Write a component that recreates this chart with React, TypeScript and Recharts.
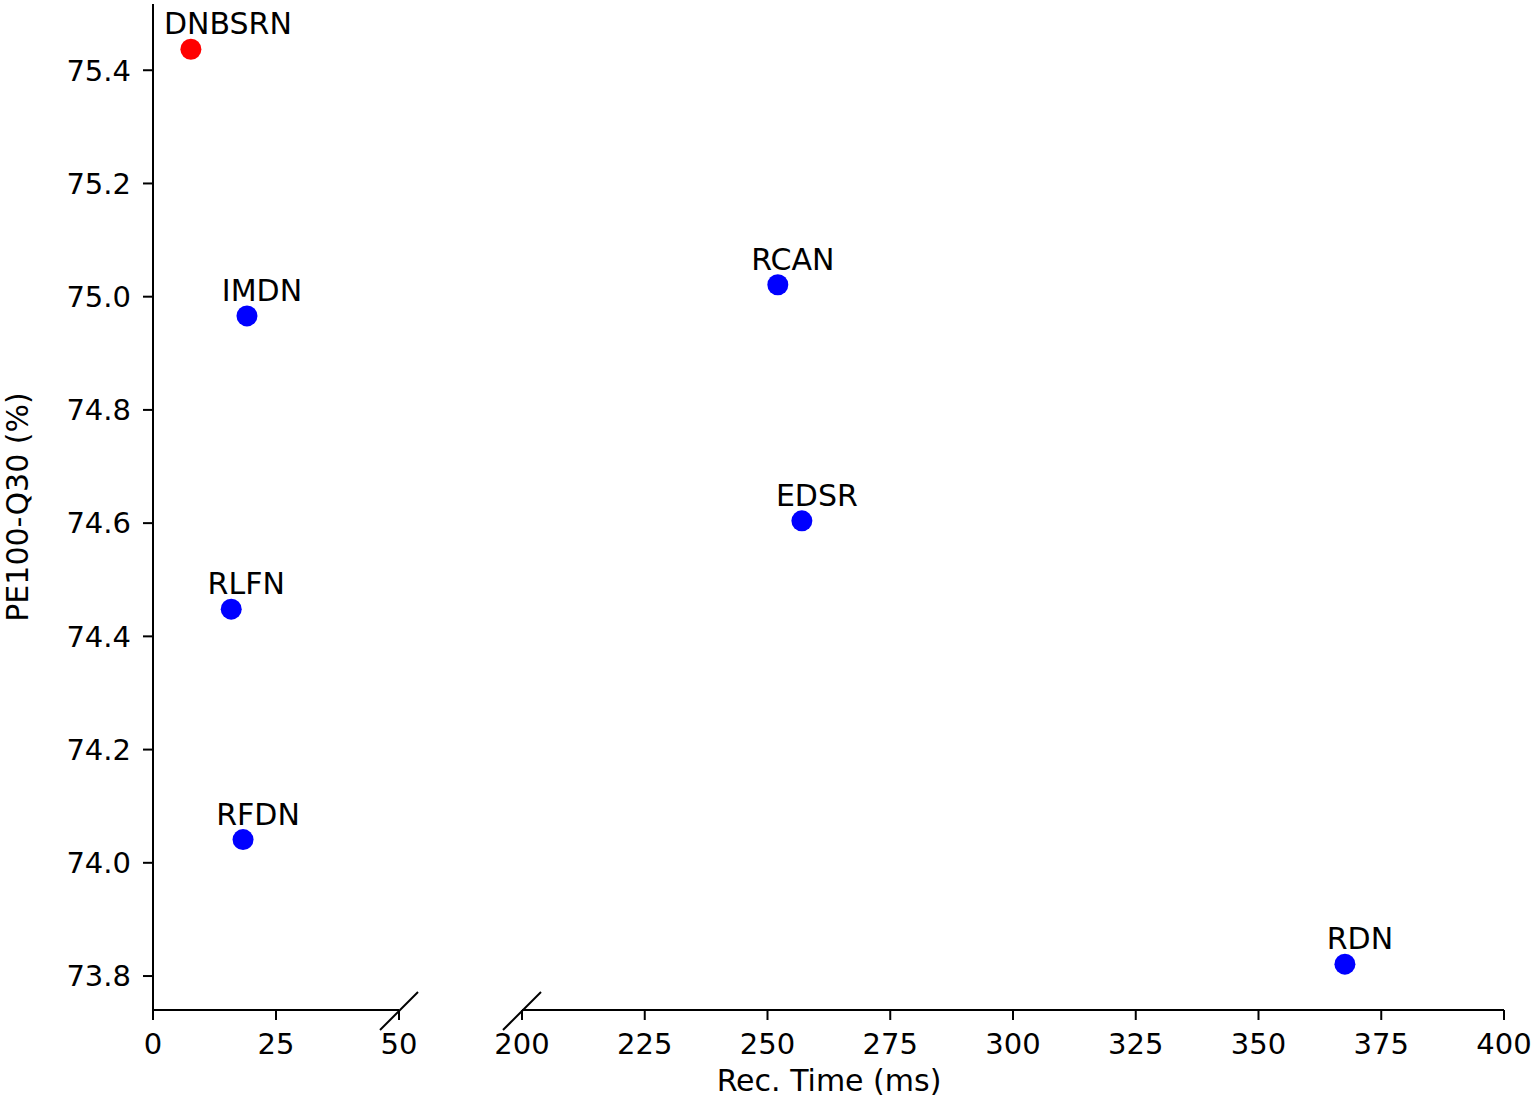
import { ScatterChart, Scatter, XAxis, YAxis } from 'recharts'

// Reconstrucción: PE100-Q30 vs tiempo de reconstrucción (eje X partido)
const models = ['DNBSRN', 'IMDN', 'RLFN', 'RFDN', 'RCAN', 'EDSR', 'RDN']
const recTime = [7.7, 19.1, 15.9, 18.3, 252.1, 257.0, 367.6]
const pe100 = [75.437, 74.966, 74.448, 74.041, 75.021, 74.604, 73.821]

const leftTicks = [0, 25, 50]
const rightTicks = [200, 225, 250, 275, 300, 325, 350, 375, 400]
const yTicks = [73.8, 74.0, 74.2, 74.4, 74.6, 74.8, 75.0, 75.2, 75.4]

const highlight = 'DNBSRN'
const labelShift: Record<string, number> = { DNBSRN: 37 }

const FONT = '"DejaVu Sans", sans-serif'
const Y_DOMAIN: [number, number] = [73.74, 75.517]

const puntos = models.map((name, i) => ({ name, x: recTime[i], y: pe100[i] }))
const puntosIzq = puntos.filter(p => p.x <= 50)
const puntosDer = puntos.filter(p => p.x >= 200)

const Punto = (props: any) => {
  const { cx, cy, payload } = props
  const dx = labelShift[payload.name] ?? 15
  return (
    <g>
      <circle cx={cx} cy={cy} r={10.5} fill={payload.name === highlight ? '#ff0000' : '#0000ff'} />
      <text x={cx + dx} y={cy - 15} textAnchor="middle" fontSize={30} fill="#000" fontFamily={FONT}>
        {payload.name}
      </text>
    </g>
  )
}

const tickStyle = { fontSize: 29, fill: '#000', fontFamily: FONT }
const lineStyle = { stroke: '#000', strokeWidth: 2 }

export default function App() {
  return (
    <div style={{ position: 'absolute', left: 0, top: 0, width: 1534, height: 1102, background: '#fff', fontFamily: FONT }}>
      {/* Panel izquierdo 0-50 */}
      <div style={{ position: 'absolute', left: 0, top: 0 }}>
        <ScatterChart width={430} height={1102} margin={{ top: 4, right: 31, bottom: 0, left: 0 }}>
          <XAxis
            type="number"
            dataKey="x"
            domain={[0, 50]}
            ticks={leftTicks}
            height={92}
            tick={tickStyle}
            tickSize={10}
            tickMargin={13}
            axisLine={lineStyle}
            tickLine={lineStyle}
          />
          <YAxis
            type="number"
            dataKey="y"
            domain={Y_DOMAIN}
            ticks={yTicks}
            width={153}
            tick={tickStyle}
            tickSize={10}
            tickMargin={12}
            tickFormatter={(v: number) => v.toFixed(1)}
            axisLine={lineStyle}
            tickLine={lineStyle}
          />
          <Scatter data={puntosIzq} shape={<Punto />} isAnimationActive={false} />
        </ScatterChart>
      </div>

      {/* Panel derecho 200-400 */}
      <div style={{ position: 'absolute', left: 440, top: 0 }}>
        <ScatterChart width={1094} height={1102} margin={{ top: 4, right: 30, bottom: 0, left: 82 }}>
          <XAxis
            type="number"
            dataKey="x"
            domain={[200, 400]}
            ticks={rightTicks}
            height={92}
            tick={tickStyle}
            tickSize={10}
            tickMargin={13}
            axisLine={lineStyle}
            tickLine={lineStyle}
          />
          <YAxis type="number" dataKey="y" domain={Y_DOMAIN} ticks={yTicks} hide />
          <Scatter data={puntosDer} shape={<Punto />} isAnimationActive={false} />
        </ScatterChart>
      </div>

      {/* Marcas de corte y títulos de ejes */}
      <svg width={1534} height={1102} style={{ position: 'absolute', left: 0, top: 0, pointerEvents: 'none' }}>
        <line x1={380} y1={1030} x2={418} y2={992} stroke="#000" strokeWidth={2} />
        <line x1={503} y1={1030} x2={541} y2={992} stroke="#000" strokeWidth={2} />
        <text x={829} y={1091} textAnchor="middle" fontSize={30} fontFamily={FONT} fill="#000">
          Rec. Time (ms)
        </text>
        <text
          x={28}
          y={507}
          textAnchor="middle"
          fontSize={30}
          fontFamily={FONT}
          fill="#000"
          transform="rotate(-90 28 507)"
        >
          PE100-Q30 (%)
        </text>
      </svg>
    </div>
  )
}
